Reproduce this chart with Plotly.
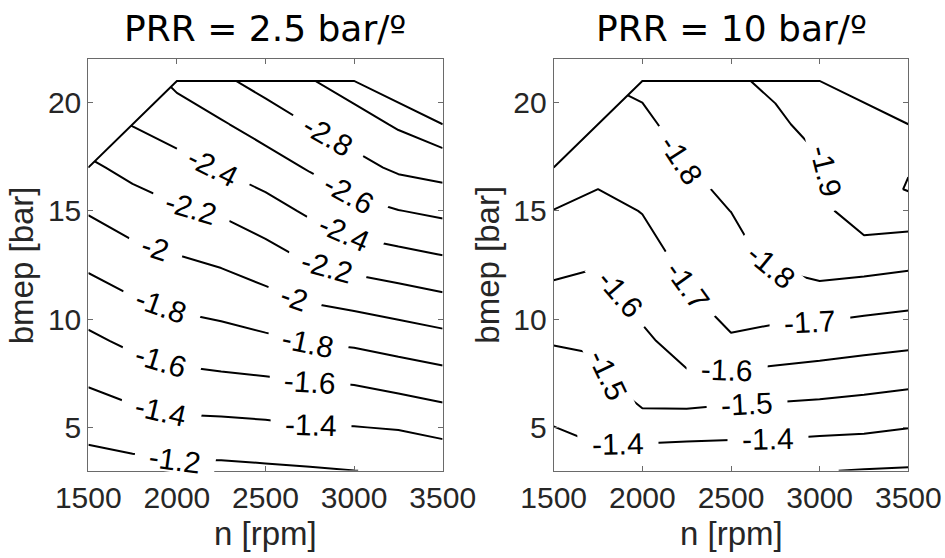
import math
import plotly.graph_objects as go

# Engine speed grid [rpm] and bmep grid [bar]
n_rpm = [1500, 1750, 2000, 2250, 2500, 2750, 3000, 3250, 3500]
bmep_a = [3, 5, 7, 9, 11, 13, 15, 17, 19, 21]
bmep_b = [3, 5, 7, 9, 11, 13, 15, 16, 17, 19, 21]
nan = None

# Map values, rows follow the bmep grid, columns follow n_rpm
map_prr25 = [
    [-1.110, -1.131, -1.152, -1.152, -1.167, -1.181, -1.199, -1.210, -1.228],
    [-1.260, -1.308, -1.345, -1.350, -1.365, -1.390, -1.395, -1.412, -1.464],
    [-1.411, -1.480, -1.529, -1.549, -1.564, -1.588, -1.604, -1.652, -1.701],
    [-1.561, -1.642, -1.696, -1.726, -1.765, -1.813, -1.837, -1.886, -1.933],
    [-1.714, -1.795, -1.852, -1.890, -1.951, -2.027, -2.074, -2.122, -2.172],
    [-1.866, -1.950, -2.002, -2.052, -2.135, -2.242, -2.315, -2.358, -2.406],
    [-2.015, -2.105, -2.176, -2.224, -2.319, -2.433, -2.536, -2.595, -2.641],
    [-2.163, -2.257, -2.333, -2.413, -2.506, -2.619, -2.730, -2.837, -2.885],
    [nan, -2.407, -2.487, -2.579, -2.691, -2.805, -2.912, -3.025, -3.141],
    [nan, nan, -2.643, -2.763, -2.873, -2.986, -3.098, nan, nan],
]

map_prr10 = [
    [-1.346, -1.371, -1.325, -1.318, -1.313, -1.316, -1.303, -1.296, -1.291],
    [-1.399, -1.419, -1.445, -1.440, -1.436, -1.431, -1.424, -1.418, -1.402],
    [-1.452, -1.467, -1.570, -1.580, -1.558, -1.550, -1.541, -1.527, -1.513],
    [-1.506, -1.515, -1.584, -1.636, -1.690, -1.667, -1.651, -1.637, -1.624],
    [-1.575, -1.565, -1.627, -1.687, -1.744, -1.753, -1.762, -1.746, -1.733],
    [-1.638, -1.617, -1.665, -1.727, -1.765, -1.828, -1.862, -1.857, -1.842],
    [-1.698, -1.672, -1.703, -1.764, -1.801, -1.835, -1.872, -1.955, -1.953],
    [-1.732, -1.700, -1.722, -1.782, -1.815, -1.848, -1.880, -1.962, -2.005],
    [-1.766, -1.729, -1.742, -1.801, -1.830, -1.861, -1.890, -1.972, -1.996],
    [nan, -1.788, -1.780, -1.837, -1.859, -1.886, -1.926, -1.982, -1.975],
    [nan, nan, -1.820, -1.873, -1.888, -1.915, -1.966, nan, nan],
]

# Full-load curve
full_load_n = [1500, 2000, 3000, 3500]
full_load_bmep = [17, 21, 21, 19]

# Contour levels drawn in each map
levels_prr25 = (-3.0, -1.2, 0.2)
levels_prr10 = (-2.0, -1.3, 0.1)

# Where the inline level labels go: level -> rough (n, bmep) spots, snapped onto the line
label_spots_prr25 = {
    -2.8: [(2850, 18.4)],
    -2.6: [(2965, 15.7)],
    -2.4: [(2200, 17.0), (2937, 13.8)],
    -2.2: [(2075, 15.0), (2843, 12.2)],
    -2.0: [(1876, 13.2), (2655, 10.8)],
    -1.8: [(1905, 10.4), (2740, 8.9)],
    -1.6: [(1905, 7.9), (2750, 7.1)],
    -1.4: [(1905, 5.6), (2758, 5.1)],
    -1.2: [(1990, 3.5)],
}
label_spots_prr10 = {
    -1.9: [(3066, 16.9)],
    -1.8: [(2212, 17.3), (2720, 12.4)],
    -1.7: [(2250, 11.5), (2944, 9.8)],
    -1.6: [(1855, 11.0), (2476, 7.7)],
    -1.5: [(1827, 7.5), (2589, 6.1)],
    -1.4: [(1864, 4.2), (2710, 4.45)],
}

x_ticks = [1500, 2000, 2500, 3000, 3500]
y_ticks = [5, 10, 15, 20]
x_range = [1500, 3500]
y_range = [3, 22]

titles = ["PRR = 2.5 bar/º", "PRR = 10 bar/º"]

FIG_W, FIG_H = 945, 558
x_domains = [[0.0934, 0.4685], [0.5859, 0.9612]]
y_domain = [0.1565, 0.8937]

SANS = "Liberation Sans, Arial, sans-serif"
TICK_FONT = dict(family=SANS, size=30, color="#262626")
LABEL_SIZE = 30
# advance widths (em) of the glyphs used in the level labels
GLYPH_EM = {"-": 0.333, ".": 0.278}
BLACK = [[0, "black"], [1, "black"]]


def contour_segments(x, y, z, level):
    """Straight pieces of one iso-line, cell by cell (linear along cell edges)."""
    segs = []
    for i in range(len(y) - 1):
        for j in range(len(x) - 1):
            c = [(x[j], y[i], z[i][j]), (x[j + 1], y[i], z[i][j + 1]),
                 (x[j + 1], y[i + 1], z[i + 1][j + 1]), (x[j], y[i + 1], z[i + 1][j])]
            if any(v is None for _, _, v in c):
                continue
            pts = []
            for k in range(4):
                (xa, ya, za), (xb, yb, zb) = c[k], c[(k + 1) % 4]
                if (za - level) * (zb - level) < 0:
                    t = (level - za) / (zb - za)
                    pts.append((xa + t * (xb - xa), ya + t * (yb - ya)))
            for k in range(0, len(pts) - 1, 2):
                segs.append((pts[k], pts[k + 1]))
    return segs


def snap_label(segs, spot, sx, sy):
    """Nearest point of the iso-line to a spot, with the on-screen angle there."""
    hx, hy = spot[0] * sx, spot[1] * sy
    best = None
    for p, q in segs:
        ax, ay, bx, by = p[0] * sx, p[1] * sy, q[0] * sx, q[1] * sy
        dx, dy = bx - ax, by - ay
        l2 = dx * dx + dy * dy
        t = 0.0 if l2 == 0 else max(0.0, min(1.0, ((hx - ax) * dx + (hy - ay) * dy) / l2))
        cx, cy = ax + t * dx, ay + t * dy
        d = (cx - hx) ** 2 + (cy - hy) ** 2
        if best is None or d < best[0]:
            best = (d, cx / sx, cy / sy, dx, dy)
    _, cx, cy, dx, dy = best
    ang = math.degrees(math.atan2(-dy, dx))
    if ang > 90:
        ang -= 180
    elif ang < -90:
        ang += 180
    return cx, cy, ang


fig = go.Figure()


def add_panel(z, y, levels, spots, xa, ya, dom):
    lo, hi, step = levels
    fig.add_trace(go.Contour(
        x=n_rpm, y=y, z=z, xaxis=xa, yaxis=ya,
        autocontour=False,
        contours=dict(start=lo, end=hi, size=step, coloring="lines", showlabels=False),
        line=dict(width=2, smoothing=0),
        colorscale=BLACK, showscale=False, hoverinfo="skip",
    ))
    # blank out the region above the full-load curve
    fig.add_trace(go.Scatter(
        x=full_load_n + [x_range[1], x_range[0]],
        y=full_load_bmep + [y_range[1], y_range[1]],
        xaxis=xa, yaxis=ya, mode="lines", fill="toself",
        fillcolor="white", line=dict(width=0, color="white"),
        hoverinfo="skip", showlegend=False,
    ))
    fig.add_trace(go.Scatter(
        x=full_load_n, y=full_load_bmep, xaxis=xa, yaxis=ya,
        mode="lines", line=dict(color="black", width=2),
        hoverinfo="skip", showlegend=False,
    ))
    # inline level labels, each on a white box that opens a gap in its line
    sx = (dom[1] - dom[0]) * FIG_W / (x_range[1] - x_range[0])
    sy = (y_domain[1] - y_domain[0]) * FIG_H / (y_range[1] - y_range[0])
    for level, places in spots.items():
        segs = contour_segments(n_rpm, y, z, level)
        text = f"{level:g}"
        box_w = sum(GLYPH_EM.get(ch, 0.556) for ch in text) * LABEL_SIZE + 28
        for spot in places:
            cx, cy, ang = snap_label(segs, spot, sx, sy)
            fig.add_annotation(
                x=cx, y=cy, xref=xa, yref=ya, text=text, textangle=ang,
                showarrow=False, xanchor="center", yanchor="middle",
                font=dict(family=SANS, size=LABEL_SIZE, color="black"),
                bgcolor="white", borderpad=0, width=box_w, height=24,
            )


add_panel(map_prr25, bmep_a, levels_prr25, label_spots_prr25, "x", "y", x_domains[0])
add_panel(map_prr10, bmep_b, levels_prr10, label_spots_prr10, "x2", "y2", x_domains[1])

axis_common = dict(
    showline=True, linecolor="#6a6a6a", linewidth=1, mirror="ticks",
    ticks="inside", ticklen=5, tickwidth=1, tickcolor="#6a6a6a",
    showgrid=False, zeroline=False, tickfont=TICK_FONT, automargin=False,
)

fig.update_layout(
    width=FIG_W, height=FIG_H,
    margin=dict(l=0, r=0, t=0, b=0, pad=0, autoexpand=False),
    paper_bgcolor="white", plot_bgcolor="white",
    showlegend=False,
    xaxis=dict(domain=x_domains[0], range=x_range, tickvals=x_ticks, anchor="y", **axis_common),
    yaxis=dict(domain=y_domain, range=y_range, tickvals=y_ticks, anchor="x", **axis_common),
    xaxis2=dict(domain=x_domains[1], range=x_range, tickvals=x_ticks, anchor="y2", **axis_common),
    yaxis2=dict(domain=y_domain, range=y_range, tickvals=y_ticks, anchor="x2", **axis_common),
)

label_font = dict(family=SANS, size=33, color="#262626")
title_font = dict(family="DejaVu Sans, Verdana, sans-serif", size=36, color="black")

for dom, title in zip(x_domains, titles):
    cx = (dom[0] + dom[1]) / 2
    fig.add_annotation(text=title, x=cx, y=1 - 29 / FIG_H, xref="paper", yref="paper",
                       xanchor="center", yanchor="middle", showarrow=False, font=title_font)
    fig.add_annotation(text="n [rpm]", x=cx, y=1 - 533 / FIG_H, xref="paper", yref="paper",
                       xanchor="center", yanchor="middle", showarrow=False, font=label_font)
    fig.add_annotation(text="bmep [bar]", x=(dom[0] * FIG_W - 66) / FIG_W, y=sum(y_domain) / 2,
                       xref="paper", yref="paper", xanchor="center", yanchor="middle",
                       textangle=-90, showarrow=False, font=label_font)

fig.write_html("out.html")
